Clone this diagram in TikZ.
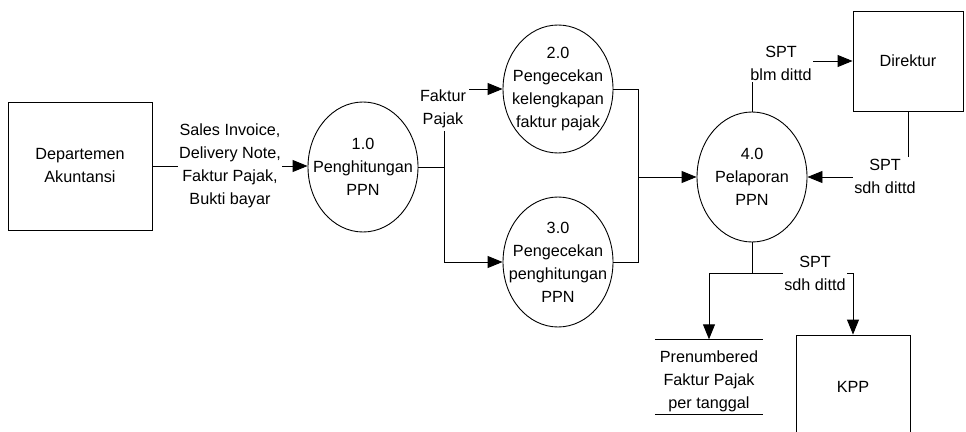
\documentclass[tikz,border=0pt]{standalone}
\usepackage{fontspec}
\setmainfont{Liberation Sans}
\usetikzlibrary{shapes.geometric,arrows.meta,calc}
\begin{document}
\begin{tikzpicture}[x=1pt,y=-1pt,
  every node/.style={font=\fontsize{16.2}{23}\selectfont, align=center},
  proc/.style={draw, ellipse, line width=0.9pt, minimum width=110pt, minimum height=130pt, inner sep=0pt},
  ent/.style={draw, rectangle, line width=0.9pt, inner sep=0pt},
  lbl/.style={fill=white, inner sep=1.5pt},
  flow/.style={line width=0.9pt},
  arr/.style={line width=0.9pt, -{Triangle[length=15pt,width=12pt]}}]
\useasboundingbox (0,0) rectangle (966,431);
\clip (0,0) rectangle (966,431);
\fill[white] (0,0) rectangle (966,431);
% entities
\node[ent, minimum width=144pt, minimum height=128pt] (dept) at (80,166) {Departemen\\Akuntansi};
\node[ent, minimum width=110pt, minimum height=100pt] (dir) at (908,61) {Direktur};
\node[ent, minimum width=114pt, minimum height=104pt] (kpp) at (853,387) {KPP};
% processes (shape and text)
\node[proc] (c1) at (363,167) {};
\node (t1) at (c1) {1.0\\Penghitungan\\PPN};
\node[proc, minimum height=128pt] (c2) at (558,89) {};
\node (t2) at (c2) {2.0\\Pengecekan\\kelengkapan\\faktur pajak};
\node[proc] (c3) at (558,262) {};
\node (t3) at (c3) {3.0\\Pengecekan\\penghitungan\\PPN};
\node[proc] (c4) at (752,177) {};
\node (t4) at (c4) {4.0\\Pelaporan\\PPN};
% data store
\node[minimum width=108pt, minimum height=83pt, inner sep=0pt] (store) at (709,381) {Prenumbered\\Faktur Pajak\\per tanggal};
\draw[flow] (store.north west) -- (store.north east);
\draw[flow] ($(store.south west)+(0,-8)$) -- ($(store.south east)+(0,-8)$);
% junctions
\coordinate (j1) at (444,167);
\coordinate (j2) at (638,177);
\coordinate (j3) at (752,273);
% flows
\draw[arr] (dept.east) -- (dept.east -| c1.west);
\node[lbl] (l1) at (230,166) {Sales Invoice,\\Delivery Note,\\Faktur Pajak,\\Bukti bayar};
\draw[flow] (c1.east) -- (j1);
\draw[arr] (j1) |- (c2.west);
\draw[arr] (j1) |- (c3.west);
\node[lbl, inner sep=3pt] (l2) at (443,109) {Faktur\\Pajak};
\draw[flow] (c2.east) -| (j2);
\draw[flow] (c3.east) -| (j2);
\draw[arr] (j2) -- (c4.west);
\draw[arr] (c4.north) |- (dir.west);
\node[lbl] (l3) at (781,63) {SPT\\blm dittd};
\draw[arr] (dir.south) |- (c4.east);
\node[lbl] (l4) at (885,176) {SPT\\sdh dittd};
\draw[flow] (c4.south) -- (j3);
\draw[arr] (j3) -| (store.north);
\draw[arr] (j3) -| (kpp.north);
\node[lbl] (l5) at (815,273) {SPT\\sdh dittd};
\end{tikzpicture}
\end{document}
